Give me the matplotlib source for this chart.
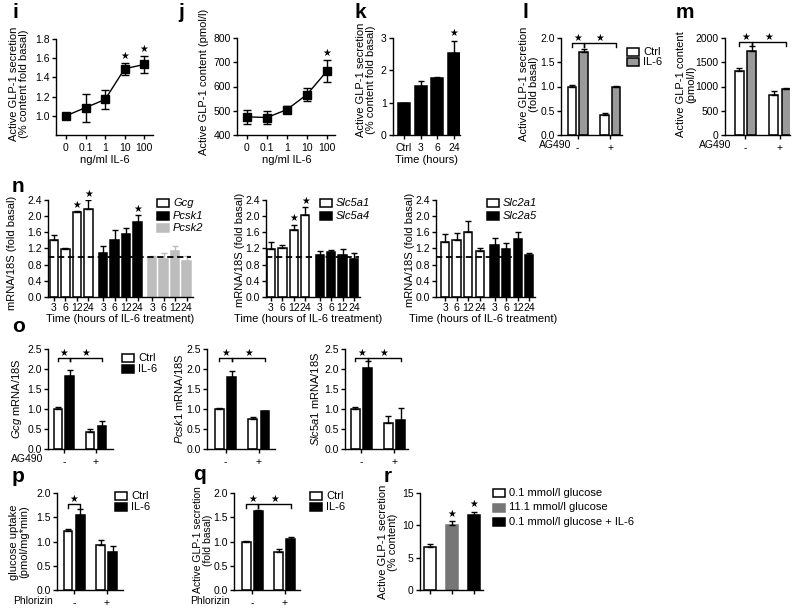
import numpy as np
import matplotlib
matplotlib.use("Agg")
import matplotlib.pyplot as plt
from matplotlib.patches import Rectangle

plt.rcParams['font.family'] = ['Liberation Sans', 'DejaVu Sans']
plt.rcParams['font.size'] = 7.5
plt.rcParams['mathtext.fontset'] = 'custom'
plt.rcParams['mathtext.rm'] = 'Liberation Sans'
plt.rcParams['mathtext.it'] = 'Liberation Sans:italic'
plt.rcParams['axes.linewidth'] = 1.0

# ---------------- data ----------------
dose_labels = ['0', '0.1', '1', '10', '100']
i_mean = [1.00, 1.085, 1.17, 1.49, 1.535]
i_err = [0.01, 0.145, 0.10, 0.06, 0.09]
i_sig = [0, 0, 0, 1, 1]

j_mean = [475, 472, 505, 567, 664]
j_err = [30, 26, 15, 25, 44]
j_sig = [0, 0, 0, 0, 1]

time_labels = ['Ctrl', '3', '6', '24']
k_mean = [1.00, 1.52, 1.75, 2.55]
k_err = [0.0, 0.14, 0.05, 0.36]
k_sig = [0, 0, 0, 1]

ag_labels = ['-', '+']
l_ctrl, l_ctrl_err = [1.00, 0.41], [0.04, 0.04]
l_il6, l_il6_err = [1.71, 0.98], [0.06, 0.04]
m_ctrl, m_ctrl_err = [1320, 835], [70, 70]
m_il6, m_il6_err = [1730, 945], [100, 25]

hours = ['3', '6', '12', '24']
gcg, gcg_err, gcg_sig = [1.40, 1.19, 2.11, 2.17], [0.14, 0.02, 0.02, 0.23], [0, 0, 1, 1]
pcsk1, pcsk1_err, pcsk1_sig = [1.10, 1.41, 1.57, 1.86], [0.16, 0.25, 0.13, 0.17], [0, 0, 0, 1]
pcsk2, pcsk2_err = [0.99, 0.94, 1.14, 0.89], [0.02, 0.14, 0.12, 0.12]
slc5a1, slc5a1_err, slc5a1_sig = [1.18, 1.22, 1.65, 2.04], [0.18, 0.06, 0.14, 0.18], [0, 0, 1, 1]
slc5a4, slc5a4_err = [1.03, 1.11, 1.03, 0.95], [0.11, 0.06, 0.15, 0.14]
slc2a1, slc2a1_err = [1.37, 1.42, 1.62, 1.15], [0.19, 0.17, 0.25, 0.07]
slc2a5, slc2a5_err = [1.28, 1.18, 1.43, 1.03], [0.18, 0.15, 0.19, 0.06]

o_gcg_ctrl, o_gcg_ctrl_err = [1.00, 0.42], [0.04, 0.09]
o_gcg_il6, o_gcg_il6_err = [1.82, 0.57], [0.16, 0.14]
o_pcsk1_ctrl, o_pcsk1_ctrl_err = [1.00, 0.75], [0.02, 0.04]
o_pcsk1_il6, o_pcsk1_il6_err = [1.80, 0.95], [0.16, 0.01]
o_slc_ctrl, o_slc_ctrl_err = [1.00, 0.65], [0.06, 0.17]
o_slc_il6, o_slc_il6_err = [2.02, 0.73], [0.18, 0.29]

p_ctrl, p_ctrl_err = [1.22, 0.92], [0.03, 0.12]
p_il6, p_il6_err = [1.55, 0.78], [0.13, 0.13]
q_ctrl, q_ctrl_err = [1.00, 0.79], [0.01, 0.05]
q_il6, q_il6_err = [1.62, 1.05], [0.02, 0.04]

r_labels = ['0.1 mmol/l glucose', '11.1 mmol/l glucose', '0.1 mmol/l glucose + IL-6']
r_mean = [6.6, 10.0, 11.6]
r_err = [0.45, 0.6, 0.5]
r_sig = [0, 1, 1]

W, H = 800, 610
fig = plt.figure(figsize=(W / 100, H / 100), dpi=100)

GRAY = '#9a9a9a'
LGRAY = '#bdbdbd'
DGRAY = '#767676'
LAB = 8
TICK = 7.5


def ftext(x, y, s, **kw):
    fig.text(x / W, 1 - y / H, s, **kw)


def add_ax(left, right, top, bottom, xlim, ylim, yticks, ylabs, xpad=2.5):
    ax = fig.add_axes([left / W, 1 - bottom / H, (right - left) / W, (bottom - top) / H])
    ax.spines[['top', 'right']].set_visible(False)
    ax.set_xlim(xlim)
    ax.set_ylim(ylim)
    ax.set_yticks(yticks, ylabs)
    ax.tick_params(length=3, width=1, labelsize=TICK)
    ax.tick_params(axis='y', pad=1.5)
    ax.tick_params(axis='x', pad=xpad)
    return ax


def bars(ax, pos, vals, errs, fc, ec='k', errc='k', w=0.72):
    ax.bar(pos, vals, w, color=fc, edgecolor=ec, linewidth=1.1, zorder=2)
    ax.errorbar(pos, vals, yerr=[np.zeros(len(vals)), errs], fmt='none', ecolor=errc,
                elinewidth=1, capsize=2.3, capthick=1, zorder=3)


def stars(ax, pos, tops, sig, off):
    for x, t, s in zip(pos, tops, sig):
        if s:
            ax.text(x, t + off, '\u2605', ha='center', va='bottom', fontsize=7,
                    family='DejaVu Sans', clip_on=False)


def bracket(ax, x1, x2, y, d, off):
    ax.plot([x1, x1, x2, x2], [y - d, y, y, y - d], color='k', lw=1, clip_on=False)
    ax.text((x1 + x2) / 2, y + off, '\u2605', ha='center', va='bottom', fontsize=7,
            family='DejaVu Sans', clip_on=False)


def legend(x, y, items, dy, w=12, h=8, size=8):
    for n, (fc, ec, lab, st) in enumerate(items):
        yy = y + n * dy
        fig.patches.append(Rectangle((x / W, 1 - (yy + h / 2) / H), w / W, h / H,
                                     transform=fig.transFigure, fc=fc, ec=ec, lw=1.1))
        ftext(x + w + 4, yy, lab, ha='left', va='center', fontsize=size, style=st)


def letter(x, y, s):
    ftext(x, y, s, ha='left', va='center', fontsize=15, fontweight='bold')


def ylab(x, y, s, size=LAB):
    ftext(x, y, s, rotation=90, ha='center', va='center', fontsize=size, linespacing=1.0)


def xlab(x, y, s):
    ftext(x, y, s, ha='center', va='center', fontsize=LAB)


def side(x, y, s):
    ftext(x, y, s, ha='right', va='center', fontsize=TICK)


def pair_panel(rect, xlim, gap, ylim, yt, ytl, ctrl, ctrl_e, il6, il6_e, il6_fc, il6_ec):
    ax = add_ax(*rect, xlim, ylim, yt, ytl)
    bars(ax, [0, gap], ctrl, ctrl_e, 'white')
    bars(ax, [1, gap + 1], il6, il6_e, il6_fc, il6_ec)
    ax.set_xticks([0.5, gap + 0.5], ag_labels)
    return ax


# ---------------- i ----------------
letter(12, 12, 'i')
ax = add_ax(56, 153, 39, 135, (-0.51, 4.45), (0.8, 1.8),
            [1.0, 1.2, 1.4, 1.6, 1.8], ['1.0', '1.2', '1.4', '1.6', '1.8'])
x = np.arange(len(i_mean))
ax.errorbar(x, i_mean, yerr=i_err, fmt='s-', color='k', ms=5.5, lw=1, capsize=3, capthick=1)
ax.set_xticks(x, dose_labels)
stars(ax, x, np.add(i_mean, i_err), i_sig, 0.02)
xlab(105, 160, 'ng/ml IL-6')
ylab(19, 84, 'Active GLP-1 secretion\n(% content fold basal)')

# ---------------- j ----------------
letter(178, 12, 'j')
ax = add_ax(237, 335, 38, 135, (-0.5, 4.4), (400, 800),
            [400, 500, 600, 700, 800], ['400', '500', '600', '700', '800'])
x = np.arange(len(j_mean))
ax.errorbar(x, j_mean, yerr=j_err, fmt='s-', color='k', ms=5.5, lw=1, capsize=3, capthick=1)
ax.set_xticks(x, dose_labels)
stars(ax, x, np.add(j_mean, j_err), j_sig, 8)
xlab(287, 160, 'ng/ml IL-6')
ylab(204, 82, 'Active GLP-1 content (pmol/l)')

# ---------------- k ----------------
letter(355, 12, 'k')
ax = add_ax(393, 460, 38, 135, (-0.66, 3.35), (0, 3), [0, 1, 2, 3], ['0', '1', '2', '3'])
x = np.arange(len(k_mean))
bars(ax, x, k_mean, k_err, 'k')
ax.set_xticks(x, time_labels)
stars(ax, x, np.add(k_mean, k_err), k_sig, 0.08)
xlab(427, 160, 'Time (hours)')
ylab(366, 80, 'Active GLP-1 secretion\n(% content fold basal)')

# ---------------- l ----------------
letter(522, 12, 'l')
ax = pair_panel((561, 622, 38, 135), (-0.96, 4.35), 2.83, (0, 2.0),
                [0, 0.5, 1.0, 1.5, 2.0], ['0.0', '0.5', '1.0', '1.5', '2.0'],
                l_ctrl, l_ctrl_err, l_il6, l_il6_err, GRAY, 'k')
bracket(ax, 0, 1, 1.9, 0.08, 0.0)
bracket(ax, 1, 3.83, 1.9, 0.08, 0.0)
side(571, 145, 'AG490')
ylab(529, 84, 'Active GLP-1 secretion\n(fold basal)')
legend(627, 52, [('white', 'k', 'Ctrl', 'normal'), (GRAY, 'k', 'IL-6', 'normal')], 10)

# ---------------- m ----------------
letter(676, 12, 'm')
ax = pair_panel((725, 790, 38, 135), (-1.12, 4.08), 2.76, (0, 2000),
                [0, 500, 1000, 1500, 2000], ['0', '500', '1000', '1500', '2000'],
                m_ctrl, m_ctrl_err, m_il6, m_il6_err, GRAY, 'k')
bracket(ax, 0, 1, 1915, 80, 0)
bracket(ax, 1, 3.76, 1915, 80, 0)
side(731, 145, 'AG490')
ylab(686, 84, 'Active GLP-1 content\n(pmol/l)')

# ---------------- n ----------------
letter(12, 187, 'n')
n_yt = [0, 0.4, 0.8, 1.2, 1.6, 2.0, 2.4]
n_ytl = ['0.0', '0.4', '0.8', '1.2', '1.6', '2.0', '2.4']
g = 4.27
xs = np.arange(4)


def n_panel(rect, xlim, series):
    ax = add_ax(*rect, xlim, (0, 2.4), n_yt, n_ytl, xpad=1.5)
    ticks, labs = [], []
    for gi, (vals, errs, sig, fc, errc) in enumerate(series):
        pos = xs + gi * g
        bars(ax, pos, vals, errs, fc, 'k' if fc != LGRAY else LGRAY, errc)
        if sig is not None:
            stars(ax, pos, np.add(vals, errs), sig, 0.03)
        ticks += list(pos)
        labs += hours
    ax.set_xticks(ticks, labs)
    ax.plot([xlim[0], ticks[-1] + 0.4], [1, 1], 'k--', lw=1.3, dashes=(3.5, 2), zorder=4)
    return ax


n_panel((48, 193, 200, 297), (-0.52, 12.1),
        [(gcg, gcg_err, gcg_sig, 'white', 'k'),
         (pcsk1, pcsk1_err, pcsk1_sig, 'k', 'k'),
         (pcsk2, pcsk2_err, None, LGRAY, LGRAY)])
ylab(12, 253, 'mRNA/18S (fold basal)')
xlab(120, 319, 'Time (hours of IL-6 treatment)')
legend(157, 203, [('white', 'k', 'Gcg', 'italic'), ('k', 'k', 'Pcsk1', 'italic'),
                  (LGRAY, LGRAY, 'Pcsk2', 'italic')], 12.5)

n_panel((266, 360, 200, 297), (-0.44, 7.8),
        [(slc5a1, slc5a1_err, slc5a1_sig, 'white', 'k'),
         (slc5a4, slc5a4_err, None, 'k', 'k')])
ylab(240, 250, 'mRNA/18S (fold basal)')
xlab(308, 319, 'Time (hours of IL-6 treatment)')
legend(320, 203, [('white', 'k', 'Slc5a1', 'italic'), ('k', 'k', 'Slc5a4', 'italic')], 12.5)

n_panel((436, 535, 200, 297), (-0.78, 7.76),
        [(slc2a1, slc2a1_err, None, 'white', 'k'),
         (slc2a5, slc2a5_err, None, 'k', 'k')])
ylab(410, 250, 'mRNA/18S (fold basal)')
xlab(483, 319, 'Time (hours of IL-6 treatment)')
legend(487, 203, [('white', 'k', 'Slc2a1', 'italic'), ('k', 'k', 'Slc2a5', 'italic')], 12.5)

# ---------------- o ----------------
letter(12, 327, 'o')
o_yt = [0, 0.5, 1.0, 1.5, 2.0, 2.5]
o_ytl = ['0.0', '0.5', '1.0', '1.5', '2.0', '2.5']
ax = pair_panel((48, 113, 349, 449), (-0.85, 4.7), 2.74, (0, 2.5), o_yt, o_ytl,
                o_gcg_ctrl, o_gcg_ctrl_err, o_gcg_il6, o_gcg_il6_err, 'k', 'k')
bracket(ax, 0, 1, 2.28, 0.08, 0.0)
bracket(ax, 1, 3.74, 2.28, 0.08, 0.0)
side(43, 459, 'AG490')
ylab(17, 399, r'$\mathit{Gcg}$ mRNA/18S')
legend(122, 358, [('white', 'k', 'Ctrl', 'normal'), ('k', 'k', 'IL-6', 'normal')], 11)

ax = pair_panel((207, 275, 349, 449), (-1.02, 4.55), 2.73, (0, 2.5), o_yt, o_ytl,
                o_pcsk1_ctrl, o_pcsk1_ctrl_err, o_pcsk1_il6, o_pcsk1_il6_err, 'k', 'k')
bracket(ax, 0, 1, 2.28, 0.08, 0.0)
bracket(ax, 1, 3.73, 2.28, 0.08, 0.0)
ylab(179, 399, r'$\mathit{Pcsk1}$ mRNA/18S')

ax = pair_panel((345, 408, 349, 449), (-0.8, 4.24), 2.64, (0, 2.5), o_yt, o_ytl,
                o_slc_ctrl, o_slc_ctrl_err, o_slc_il6, o_slc_il6_err, 'k', 'k')
bracket(ax, 0, 1, 2.28, 0.08, 0.0)
bracket(ax, 1, 3.64, 2.28, 0.08, 0.0)
ylab(315, 399, r'$\mathit{Slc5a1}$ mRNA/18S')

# ---------------- p ----------------
letter(12, 477, 'p')
pq_yt = [0, 0.5, 1.0, 1.5, 2.0]
pq_ytl = ['0.0', '0.5', '1.0', '1.5', '2.0']
ax = pair_panel((57, 123, 493, 590), (-0.9, 4.5), 2.66, (0, 2.0), pq_yt, pq_ytl,
                p_ctrl, p_ctrl_err, p_il6, p_il6_err, 'k', 'k')
bracket(ax, 0, 1, 1.77, 0.07, 0.0)
side(53, 601, 'Phlorizin')
ylab(19, 542, 'glucose uptake\n(pmol/mg*min)')
legend(115, 496, [('white', 'k', 'Ctrl', 'normal'), ('k', 'k', 'IL-6', 'normal')], 11)

# ---------------- q ----------------
letter(193, 474, 'q')
ax = pair_panel((234, 300, 493, 590), (-1.04, 4.46), 2.67, (0, 2.0), pq_yt, pq_ytl,
                q_ctrl, q_ctrl_err, q_il6, q_il6_err, 'k', 'k')
bracket(ax, 0, 1, 1.77, 0.07, 0.0)
bracket(ax, 1, 3.67, 1.77, 0.07, 0.0)
side(230, 601, 'Phlorizin')
ylab(203, 540, 'Active GLP-1 secretion\n(fold basal)', size=7.5)
legend(310, 496, [('white', 'k', 'Ctrl', 'normal'), ('k', 'k', 'IL-6', 'normal')], 11)

# ---------------- r ----------------
letter(384, 477, 'r')
ax = add_ax(420, 483, 493, 590, (-0.48, 2.42), (0, 15), [0, 5, 10, 15], ['0', '5', '10', '15'])
x = np.arange(len(r_mean))
ax.bar(x, r_mean, 0.55, color=['white', DGRAY, 'k'], edgecolor=['k', DGRAY, 'k'],
       linewidth=1.1, zorder=2)
ax.errorbar(x, r_mean, yerr=[np.zeros(3), r_err], fmt='none', ecolor='k',
            elinewidth=1, capsize=2.3, capthick=1, zorder=3)
ax.set_xticks(x, ['', '', ''])
stars(ax, x, np.add(r_mean, r_err), r_sig, 0.4)
ylab(388, 542, 'Active GLP-1 secretion\n(% content)')
legend(493, 493, [('white', 'k', r_labels[0], 'normal'), (DGRAY, DGRAY, r_labels[1], 'normal'),
                  ('k', 'k', r_labels[2], 'normal')], 14.5)

fig.savefig('out.png', dpi=100)
